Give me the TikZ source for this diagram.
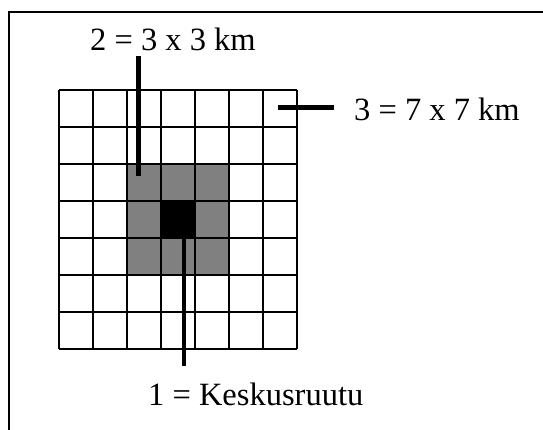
\documentclass[tikz,border=0pt]{standalone}
\usepackage{fontspec}
\setmainfont{Liberation Serif}
\begin{document}
\begin{tikzpicture}[x=1pt,y=-1pt,
  gridline/.style={line width=1.5pt,black},
  leader/.style={line width=4.6pt,black},
  label/.style={anchor=base west,inner sep=0pt,font=\fontsize{32.5}{38}\selectfont},
  frame/.style={line width=2pt,black}]
\useasboundingbox (0,0) rectangle (543,429);
\begin{scope}
\clip (0,0) rectangle (543,429);
\draw[frame] (9,12) rectangle (560,440);
\end{scope}
% fills
\fill[black!50] (127,164) rectangle (229,275);
\fill[black] (161,201) rectangle (195,238);
% grid
\foreach \i in {0,...,7}{
  \draw[gridline] ({59+34*\i},90) -- ({59+34*\i},349);
  \draw[gridline] (59,{90+37*\i}) -- (297,{90+37*\i});
}
% labels
\node[label] (t2) at (90,50) {2 = 3 x 3 km};
\node[label] (t3) at (354,120) {3 = 7 x 7 km};
\node[label] (t1) at (148,405.5) {1 = Keskusruutu};
% leader lines
\coordinate (a2) at (138.3,56);
\coordinate (b2) at (138.3,176);
\coordinate (a3) at (334,107.3);
\coordinate (b3) at (278,107.3);
\coordinate (a1) at (184,366);
\coordinate (b1) at (184,236);
\draw[leader] (a2) -- (b2);
\draw[leader] (a3) -- (b3);
\draw[leader] (a1) -- (b1);
\end{tikzpicture}
\end{document}
